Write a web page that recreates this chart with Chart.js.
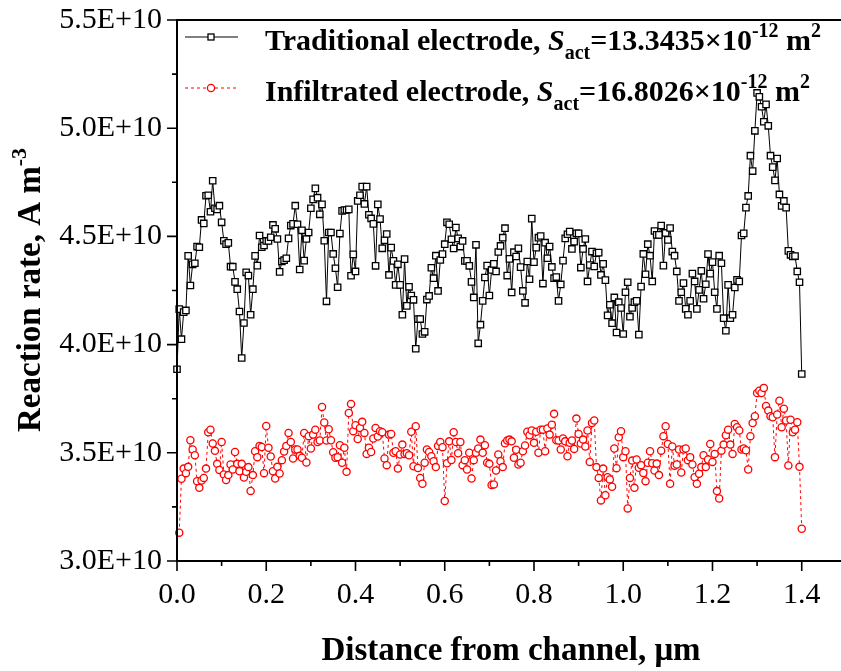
<!DOCTYPE html>
<html>
<head>
<meta charset="utf-8">
<script src="https://cdn.jsdelivr.net/npm/chart.js@4.4.1/dist/chart.umd.min.js"></script>
<style>
  html, body { margin: 0; padding: 0; background: #fff; }
</style>
</head>
<body>
<canvas id="myChart" width="841" height="671"></canvas>
<script>
// Reaction rate along the electrode, distance from channel in µm, rate in units of 1E+10 A m^-3

const distance = [
  0,.005,.01,.015,.02,.025,.03,.035,.04,.045,.05,.055,.06,.065,.07,.075,.08,.085,.09,.095,
  .1,.105,.11,.115,.12,.125,.13,.135,.14,.145,.15,.155,.16,.165,.17,.175,.18,.185,.19,.195,
  .2,.205,.21,.215,.22,.225,.23,.235,.24,.245,.25,.255,.26,.265,.27,.275,.28,.285,.29,.295,
  .3,.305,.31,.315,.32,.325,.33,.335,.34,.345,.35,.355,.36,.365,.37,.375,.38,.385,.39,.395,
  .4,.405,.41,.415,.42,.425,.43,.435,.44,.445,.45,.455,.46,.465,.47,.475,.48,.485,.49,.495,
  .5,.505,.51,.515,.52,.525,.53,.535,.54,.545,.55,.555,.56,.565,.57,.575,.58,.585,.59,.595,
  .6,.605,.61,.615,.62,.625,.63,.635,.64,.645,.65,.655,.66,.665,.67,.675,.68,.685,.69,.695,
  .7,.705,.71,.715,.72,.725,.73,.735,.74,.745,.75,.755,.76,.765,.77,.775,.78,.785,.79,.795,
  .8,.805,.81,.815,.82,.825,.83,.835,.84,.845,.85,.855,.86,.865,.87,.875,.88,.885,.89,.895,
  .9,.905,.91,.915,.92,.925,.93,.935,.94,.945,.95,.955,.96,.965,.97,.975,.98,.985,.99,.995,
  1,1.005,1.01,1.015,1.02,1.025,1.03,1.035,1.04,1.045,1.05,1.055,1.06,1.065,1.07,1.075,1.08,1.085,1.09,1.095,
  1.1,1.105,1.11,1.115,1.12,1.125,1.13,1.135,1.14,1.145,1.15,1.155,1.16,1.165,1.17,1.175,1.18,1.185,1.19,1.195,
  1.2,1.205,1.21,1.215,1.22,1.225,1.23,1.235,1.24,1.245,1.25,1.255,1.26,1.265,1.27,1.275,1.28,1.285,1.29,1.295,
  1.3,1.305,1.31,1.315,1.32,1.325,1.33,1.335,1.34,1.345,1.35,1.355,1.36,1.365,1.37,1.375,1.38,1.385,1.39,1.395,
  1.4
];

// traditional electrode, one value per distance point
const tradRate = [
  3.886,4.164,4.025,4.150,4.158,4.410,4.273,4.371,4.376,4.453,
  4.450,4.576,4.560,4.688,4.690,4.614,4.757,4.630,4.625,4.642,
  4.565,4.480,4.464,4.470,4.360,4.360,4.290,4.256,4.153,3.938,
  4.100,4.334,4.319,4.138,4.256,4.410,4.365,4.504,4.450,4.458,
  4.479,4.479,4.496,4.553,4.535,4.488,4.336,4.384,4.390,4.399,
  4.491,4.550,4.558,4.642,4.556,4.347,4.528,4.388,4.488,4.518,
  4.630,4.671,4.722,4.679,4.602,4.648,4.480,4.200,4.518,4.518,
  4.419,4.353,4.265,4.513,4.618,4.622,4.622,4.625,4.318,4.417,
  4.338,4.664,4.690,4.730,4.650,4.730,4.600,4.583,4.558,4.364,
  4.648,4.580,
  4.445,4.482,4.511,4.322,4.448,4.387,4.276,4.371,4.276,4.138,
  4.395,4.179,4.267,4.227,4.207,3.981,4.118,4.118,4.049,4.059,
  4.208,4.225,4.355,4.307,4.411,4.248,4.391,4.418,4.464,4.565,
  4.556,4.487,4.444,4.541,4.491,4.453,4.479,4.387,4.387,4.364,
  4.290,4.218,4.461,4.006,4.092,4.202,4.310,4.365,4.227,4.345,
  4.373,4.338,4.428,4.456,4.494,4.538,4.319,4.396,4.241,4.427,
  4.407,4.445,4.358,4.248,4.193,4.384,4.302,4.582,4.381,4.448,
  4.494,4.502,4.282,4.471,4.399,4.453,4.359,4.307,4.312,4.202,
  4.278,4.388,4.491,4.510,4.522,4.442,4.476,4.514,4.514,4.356,
  4.442,4.488,4.292,4.368,4.430,4.361,4.422,
  4.425,4.322,4.373,4.298,4.135,4.184,4.099,4.218,4.056,4.196,
  4.169,4.049,4.242,4.288,4.129,4.169,4.196,4.202,4.046,4.268,
  4.419,4.325,4.464,4.411,4.292,4.525,4.507,4.507,4.550,4.365,
  4.516,4.484,4.539,4.430,4.411,4.338,4.202,4.242,4.284,4.165,
  4.138,4.202,4.328,4.292,4.165,4.253,4.341,4.212,4.279,4.418,
  4.328,4.381,4.242,4.165,4.411,4.376,4.122,4.064,4.276,4.122,
  4.138,4.264,4.299,4.292,4.504,4.514,4.633,4.687,4.873,4.802,
  4.988,5.163,5.145,5.099,5.030,5.110,5.011,4.873,4.820,4.759,
  4.860,4.694,4.641,4.664,4.633,4.433,4.415,4.407,4.409,4.338,
  4.288,3.864
];

// infiltrated electrode, starts at the second distance point
const infRate = [
  3.131,3.380,3.427,3.406,3.435,3.558,3.515,3.489,3.369,3.338,
  3.372,3.384,3.427,3.595,3.607,3.543,3.509,3.449,3.421,3.550,
  3.400,3.374,3.397,3.446,3.423,3.504,3.449,3.415,3.449,3.386,
  3.412,3.434,3.324,3.397,3.507,3.480,3.532,3.527,3.406,3.624,
  3.523,3.483,3.415,3.381,3.435,3.404,3.466,3.506,3.532,3.592,
  3.550,3.474,3.515,3.515,3.486,3.477,3.592,3.455,3.577,3.520,
  3.584,3.607,3.550,3.557,3.712,3.640,3.557,3.609,3.558,3.503,
  3.477,3.480,3.535,3.454,3.523,3.412,3.684,3.726,3.600,3.627,
  3.564,3.615,3.643,3.592,3.495,3.523,3.504,3.566,3.615,3.575,
  3.600,3.595,3.474,3.443,3.584,
  3.587,3.500,3.507,3.427,3.492,3.538,3.495,3.498,3.489,3.597,
  3.438,3.623,3.430,3.384,3.357,3.454,3.515,3.504,3.484,3.461,
  3.434,3.532,3.550,3.526,3.277,3.452,3.553,3.467,3.595,3.550,
  3.498,3.550,3.443,3.466,3.423,3.500,3.381,3.466,3.500,3.520,
  3.561,3.500,3.535,3.454,3.449,3.351,3.354,3.418,3.492,3.461,
  3.434,3.544,3.557,3.561,3.553,3.477,3.514,3.446,3.454,3.507,
  3.534,3.597,3.581,3.603,3.546,3.597,3.500,3.607,3.607,3.507,
  3.612,3.584,3.630,3.680,3.558,3.557,3.515,3.566,3.553,3.484,
  3.546,3.557,3.518,3.658,3.587,3.543,3.561,3.529,3.603,3.458,
  3.638,3.649,3.434,3.384,3.280,
  3.427,3.304,3.387,3.377,3.343,3.520,3.429,3.572,3.600,3.480,
  3.507,3.243,3.384,3.464,3.338,3.469,3.431,3.443,3.407,3.369,
  3.454,3.507,3.452,3.418,3.450,3.397,3.510,3.577,3.623,3.541,
  3.357,3.529,3.440,3.446,3.515,3.409,3.515,3.520,3.466,3.480,
  3.446,3.387,3.357,3.403,3.434,3.489,3.434,3.469,3.541,3.458,
  3.495,3.323,3.289,3.510,3.538,3.581,3.607,3.538,3.495,3.633,
  3.618,3.603,3.515,3.520,3.512,3.423,3.577,3.638,3.669,3.776,
  3.787,3.776,3.800,3.716,3.695,3.669,3.664,3.480,3.677,3.741,
  3.618,3.704,3.649,3.441,3.653,3.595,3.607,3.641,3.435,3.149
];

const xMajor = [0, 0.2, 0.4, 0.6, 0.8, 1.0, 1.2, 1.4];
const xMinor = [0.1, 0.3, 0.5, 0.7, 0.9, 1.1, 1.3];
const yMajor = [3.0, 3.5, 4.0, 4.5, 5.0, 5.5];
const yMinor = [3.25, 3.75, 4.25, 4.75, 5.25];

const serif = '"Liberation Serif", "Times New Roman", serif';

const tradPoints = tradRate.map((v, i) => ({ x: distance[i], y: v }));
const infPoints = infRate.map((v, i) => ({ x: distance[i + 1], y: v }));

// plot box edges in canvas pixels
const box = { left: 177, top: 20, right: 841, bottom: 561 };

// draw a run of text pieces with their own font and vertical shift
function drawParts(ctx, x, y, parts) {
    parts.forEach(p => {
        ctx.font = p[1];
        ctx.fillText(p[0], x, y + (p[2] || 0));
        x += ctx.measureText(p[0]).width;
    });
    return x;
}

const bold = s => 'bold ' + s + 'px ' + serif;
const boldItalic = s => 'italic bold ' + s + 'px ' + serif;

const decorPlugin = {
    id: 'decor',
    // pin the plot box so the axes land where they should
    afterLayout(chart) {
        const a = chart.chartArea;
        const xs = chart.scales.x, ys = chart.scales.y;
        a.top = box.top; a.bottom = box.bottom; a.height = box.bottom - box.top;
        ys.top = box.top; ys.bottom = box.bottom; ys.height = box.bottom - box.top;
        ys.configure();
        xs.top = box.bottom; xs.bottom = chart.height; xs.height = chart.height - box.bottom;
    },
    afterDraw(chart) {
        const ctx = chart.ctx;
        const area = chart.chartArea;
        const xs = chart.scales.x, ys = chart.scales.y;
        ctx.save();

        // axis frame (left, bottom, top)
        ctx.strokeStyle = '#000';
        ctx.lineWidth = 2;
        ctx.beginPath();
        ctx.moveTo(area.right, area.top);
        ctx.lineTo(area.left, area.top);
        ctx.lineTo(area.left, area.bottom);
        ctx.lineTo(area.right, area.bottom);
        ctx.stroke();

        // tick marks, pointing outward
        ctx.lineWidth = 1.6;
        ctx.beginPath();
        yMajor.forEach(v => { const p = ys.getPixelForValue(v); ctx.moveTo(area.left - 10, p); ctx.lineTo(area.left, p); });
        yMinor.forEach(v => { const p = ys.getPixelForValue(v); ctx.moveTo(area.left - 5, p); ctx.lineTo(area.left, p); });
        xMajor.forEach(v => { const p = xs.getPixelForValue(v); ctx.moveTo(p, area.bottom); ctx.lineTo(p, area.bottom + 10); });
        xMinor.forEach(v => { const p = xs.getPixelForValue(v); ctx.moveTo(p, area.bottom); ctx.lineTo(p, area.bottom + 5); });
        ctx.stroke();

        ctx.fillStyle = '#000';
        ctx.textBaseline = 'alphabetic';
        ctx.textAlign = 'left';

        // x axis title
        ctx.font = bold(33);
        const xt = 'Distance from channel, \u03bcm';
        ctx.fillText(xt, 511 - ctx.measureText(xt).width / 2, 660);

        // y axis title, rotated
        ctx.save();
        ctx.translate(40, 432);
        ctx.rotate(-Math.PI / 2);
        drawParts(ctx, 0, 0, [
            ['Reaction rate, A m', bold(33)],
            ['-3', bold(22), -14]
        ]);
        ctx.restore();

        // legend
        const ly = [37, 88];
        ctx.lineWidth = 1;
        ctx.strokeStyle = '#000';
        ctx.beginPath(); ctx.moveTo(185, ly[0]); ctx.lineTo(238, ly[0]); ctx.stroke();
        ctx.fillStyle = '#fff';
        ctx.lineWidth = 1.3;
        ctx.fillRect(208, ly[0] - 3, 6, 6);
        ctx.strokeRect(208, ly[0] - 3, 6, 6);

        ctx.strokeStyle = '#ff0000';
        ctx.lineWidth = 1;
        ctx.setLineDash([3, 3]);
        ctx.beginPath(); ctx.moveTo(185, ly[1]); ctx.lineTo(238, ly[1]); ctx.stroke();
        ctx.setLineDash([]);
        ctx.lineWidth = 1.3;
        ctx.beginPath(); ctx.arc(211, ly[1], 3.6, 0, Math.PI * 2); ctx.fill(); ctx.stroke();

        ctx.fillStyle = '#000';
        drawParts(ctx, 265, 50, [
            ['Traditional electrode, ', bold(30)],
            ['S', boldItalic(30)],
            ['act', bold(20), 9],
            ['=13.3435\u00d710', bold(30)],
            ['-12', bold(20), -13],
            [' m', bold(30)],
            ['2', bold(20), -13]
        ]);
        drawParts(ctx, 265, 101, [
            ['Infiltrated electrode, ', bold(30)],
            ['S', boldItalic(30)],
            ['act', bold(20), 9],
            ['=16.8026\u00d710', bold(30)],
            ['-12', bold(20), -13],
            [' m', bold(30)],
            ['2', bold(20), -13]
        ]);

        ctx.restore();
    }
};

const ctx = document.getElementById('myChart');

const myChart = new Chart(ctx, {
    type: 'scatter',
    data: {
        datasets: [{
            label: 'Traditional electrode',
            data: tradPoints,
            showLine: true,
            borderColor: '#000',
            borderWidth: 1,
            pointStyle: 'rect',
            pointRadius: 4.5,
            pointBorderWidth: 1.3,
            pointBorderColor: '#000',
            pointBackgroundColor: '#fff',
            clip: false
        },
        {
            label: 'Infiltrated electrode',
            data: infPoints,
            showLine: true,
            borderColor: '#ff0000',
            borderWidth: 1,
            borderDash: [3, 3],
            pointStyle: 'circle',
            pointRadius: 3.6,
            pointBorderWidth: 1.3,
            pointBorderColor: '#ff0000',
            pointBackgroundColor: '#fff',
            clip: false
        }]
    },
    options: {
        responsive: false,
        animation: false,
        layout: { autoPadding: false, padding: { top: 20, left: 0, right: 0, bottom: 0 } },
        scales: {
            x: {
                type: 'linear',
                min: 0,
                max: 1.488,
                afterFit: s => { s.height = 110; },
                afterBuildTicks: s => { s.ticks = xMajor.map(v => ({ value: v })); },
                grid: { display: false, drawTicks: false },
                border: { display: false },
                ticks: {
                    autoSkip: false,
                    maxRotation: 0,
                    padding: 16,
                    color: '#000',
                    font: { family: serif, size: 30 },
                    callback: v => v.toFixed(1)
                }
            },
            y: {
                min: 3.0,
                max: 5.5,
                afterFit: s => { s.width = 177; },
                afterBuildTicks: s => { s.ticks = yMajor.map(v => ({ value: v })); },
                grid: { display: false, drawTicks: false },
                border: { display: false },
                ticks: {
                    padding: 15,
                    color: '#000',
                    font: { family: serif, size: 30 },
                    callback: v => v.toFixed(1) + 'E+10'
                }
            }
        },
        plugins: {
            legend: { display: false },
            tooltip: { enabled: false }
        }
    },
    plugins: [decorPlugin]
});
</script>
</body>
</html>
